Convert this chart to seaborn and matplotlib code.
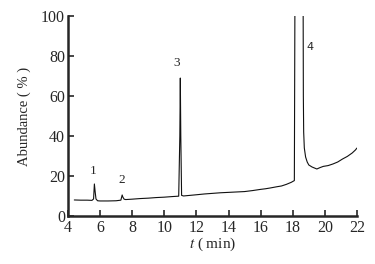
import matplotlib
matplotlib.use("Agg")
import matplotlib.pyplot as plt
import seaborn as sns
import pandas as pd

# chromatogram trace
t = [4.4, 4.8, 5.2, 5.5, 5.6, 5.65, 5.7, 5.75, 5.85, 6.0, 6.5, 7.0, 7.3, 7.38, 7.42,
     7.5, 7.6, 8.0, 8.5, 9.0, 9.5, 10.0, 10.5, 10.9, 10.97, 11.0, 11.03, 11.08, 11.2,
     11.6, 12.0, 12.5, 13.0, 13.5, 14.0, 14.5, 15.0, 15.5, 16.0, 16.3, 16.6, 17.0,
     17.3, 17.6, 17.9, 18.1, 18.14, 18.16, 18.64, 18.66, 18.68, 18.72, 18.8, 18.9,
     19.0, 19.2, 19.5, 19.7, 19.9, 20.2, 20.5, 20.8, 21.1, 21.4, 21.7, 21.9, 22.0]
abundance = [8.0, 7.9, 7.9, 7.8, 8.5, 16.0, 12.0, 8.5, 7.6, 7.5, 7.5, 7.6, 7.9, 10.5, 9.5,
             8.4, 8.2, 8.4, 8.7, 8.9, 9.2, 9.4, 9.7, 9.9, 40.0, 69.0, 40.0, 10.3, 10.0,
             10.3, 10.6, 11.0, 11.3, 11.6, 11.8, 12.0, 12.2, 12.7, 13.3, 13.6, 14.0, 14.6,
             15.0, 15.8, 16.8, 17.7, 120.0, 130.0, 130.0, 60.0, 42.0, 34.0, 29.5, 27.0,
             25.5, 24.5, 23.5, 24.2, 24.8, 25.2, 26.0, 27.0, 28.5, 29.8, 31.5, 33.0, 34.0]

peak_labels = ["1", "2", "3", "4"]
peak_x = [5.6, 7.35, 10.8, 19.1]
peak_y = [19.5, 15.0, 73.5, 82.0]

df = pd.DataFrame({"t": t, "abundance": abundance})

sns.set_style("ticks")
plt.rcParams["font.family"] = ["Liberation Serif", "DejaVu Serif"]
plt.rcParams["mathtext.fontset"] = "stix"

fig = plt.figure(figsize=(3.75, 2.64), dpi=100)
ax = fig.add_axes([0.181, 0.182, 0.771, 0.757])

sns.lineplot(data=df, x="t", y="abundance", color="#111111", linewidth=0.8,
             estimator=None, sort=False, ax=ax)

for lab, px, py in zip(peak_labels, peak_x, peak_y):
    fam = "DejaVu Sans" if lab == "4" else "Liberation Serif"
    size = 8 if lab == "4" else 9.5
    ax.text(px, py, lab, fontsize=size, ha="center", va="bottom", family=fam)

ax.set_xlim(4, 22)
ax.set_ylim(0, 100)
ax.set_xticks(range(4, 23, 2))
ax.set_yticks(range(0, 101, 20))
ax.tick_params(direction="in", length=4, width=1.2, labelsize=11.5)
ax.tick_params(axis="x", pad=3)
ax.tick_params(axis="y", pad=2)
ax.set_xlabel("$t$ ( min)", fontsize=11, labelpad=0)
ax.set_ylabel("Abundance ( % )", fontsize=10.5, labelpad=7)

sns.despine(ax=ax)
ax.spines["left"].set_linewidth(1.8)
ax.spines["bottom"].set_linewidth(1.8)

plt.savefig("out.png", dpi=100)
